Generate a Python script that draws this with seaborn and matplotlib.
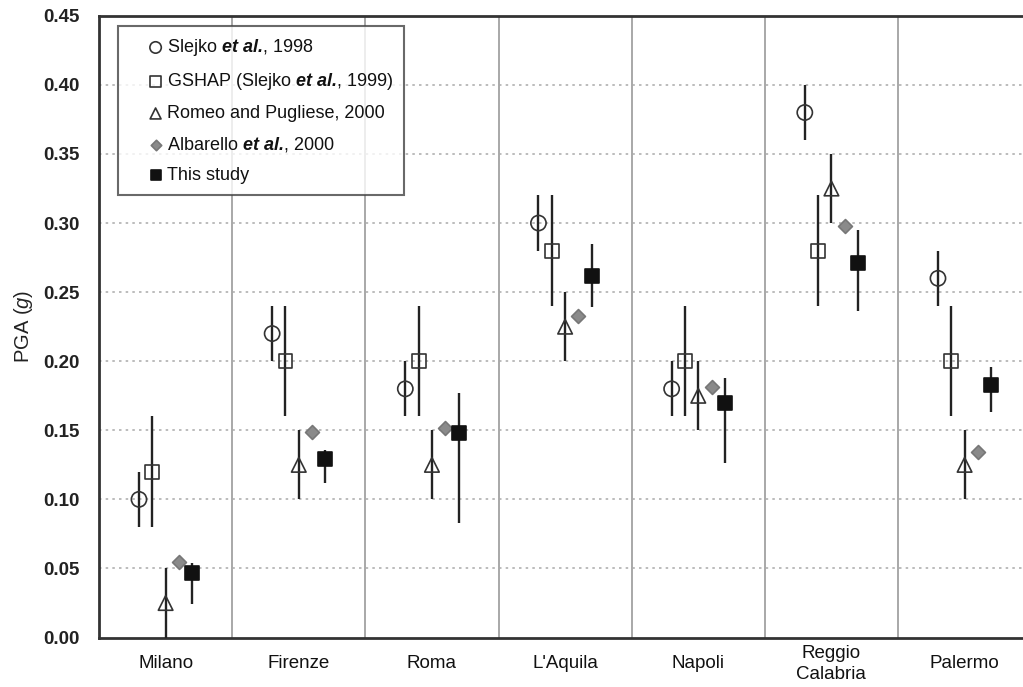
import matplotlib
matplotlib.use("Agg")
import matplotlib.pyplot as plt
import numpy as np
import pandas as pd
import seaborn as sns

# ---- data -------------------------------------------------------------
cities = ["Milano", "Firenze", "Roma", "L'Aquila", "Napoli", "Reggio\nCalabria", "Palermo"]

slejko_1998 = [0.10, 0.22, 0.18, 0.30, 0.18, 0.38, 0.26]
slejko_1998_err = 0.02

gshap_1999 = [0.12, 0.20, 0.20, 0.28, 0.20, 0.28, 0.20]
gshap_1999_err = 0.04

romeo_2000 = [0.025, 0.125, 0.125, 0.225, 0.175, 0.325, 0.125]
romeo_2000_err = 0.025

albarello_2000 = [0.055, 0.149, 0.152, 0.233, 0.181, 0.298, 0.134]

this_study = [0.047, 0.129, 0.148, 0.262, 0.170, 0.271, 0.183]
this_study_low = [0.024, 0.112, 0.083, 0.239, 0.1265, 0.236, 0.163]
this_study_high = [0.054, 0.136, 0.177, 0.2845, 0.188, 0.295, 0.196]

yticks = [0.00, 0.05, 0.10, 0.15, 0.20, 0.25, 0.30, 0.35, 0.40, 0.45]

# ---- style ------------------------------------------------------------
sns.set_theme(style="white")
plt.rcParams["font.family"] = ["Liberation Sans", "DejaVu Sans"]
plt.rcParams["mathtext.fontset"] = "custom"
plt.rcParams["mathtext.rm"] = "Liberation Sans"
plt.rcParams["mathtext.it"] = "Liberation Sans:italic"
plt.rcParams["mathtext.bf"] = "Liberation Sans:bold"
plt.rcParams["mathtext.bfit"] = "Liberation Sans:italic:bold"

fig = plt.figure(figsize=(10.23, 6.87), dpi=100)
# right edge of the last category sits just past the figure border
ax = fig.add_axes([0.0968, 0.072, 0.9112, 0.905])

idx = np.arange(len(cities))
err_color = "#222222"
err_lw = 1.7

series = [
    dict(name="Slejko $\\mathbfit{et\\ al.}\\!$, 1998", y=slejko_1998,
         lo=np.array(slejko_1998) - slejko_1998_err,
         hi=np.array(slejko_1998) + slejko_1998_err,
         dx=-0.2, marker="o", s=120, fc="none", ec="#333333"),
    dict(name="GSHAP (Slejko $\\mathbfit{et\\ al.}\\!$, 1999)", y=gshap_1999,
         lo=np.array(gshap_1999) - gshap_1999_err,
         hi=np.array(gshap_1999) + gshap_1999_err,
         dx=-0.1, marker="s", s=100, fc="none", ec="#333333"),
    dict(name="Romeo and Pugliese, 2000", y=romeo_2000,
         lo=np.array(romeo_2000) - romeo_2000_err,
         hi=np.array(romeo_2000) + romeo_2000_err,
         dx=0.0, marker="^", s=110, fc="none", ec="#333333"),
    dict(name="Albarello $\\mathbfit{et\\ al.}\\!$, 2000", y=albarello_2000,
         lo=None, hi=None,
         dx=0.1, marker="D", s=50, fc="#8a8a8a", ec="#777777"),
    dict(name="This study", y=this_study,
         lo=np.array(this_study_low), hi=np.array(this_study_high),
         dx=0.2, marker="s", s=100, fc="#111111", ec="#111111"),
]

for sr in series:
    x = idx + sr["dx"]
    if sr["lo"] is not None:
        ax.vlines(x, sr["lo"], sr["hi"], color=err_color, lw=err_lw, zorder=3)
    df = pd.DataFrame({"x": x, "y": sr["y"]})
    sns.scatterplot(data=df, x="x", y="y", ax=ax, marker=sr["marker"], s=sr["s"],
                    facecolor=sr["fc"], edgecolor=sr["ec"], linewidth=1.2,
                    label=sr["name"], zorder=4)

# ---- axes -------------------------------------------------------------
ax.set_xlim(-0.5, len(cities) - 0.5)
ax.set_ylim(0, 0.45)
ax.set_yticks(yticks)
ax.set_yticklabels([f"{v:.2f}" for v in yticks], fontsize=13.5, fontweight="bold", color="#222222")
ax.set_xticks(idx)
ax.set_xticklabels(cities, fontsize=13.5, color="#111111", linespacing=1.3, va="center")
ax.set_xticks(idx[:-1] + 0.5, minor=True)
ax.tick_params(axis="x", which="major", length=0, pad=19)
ax.tick_params(axis="x", which="minor", length=5, width=1.2, color="#333333", direction="out")
ax.tick_params(axis="y", which="major", length=6, width=1.2, color="#333333", direction="out", pad=8)
ax.set_xlabel("")
ax.set_ylabel("PGA ($\\it{g}$)", fontsize=14.5, color="#222222")
ax.yaxis.set_label_coords(-0.0687, 0.5)

# dotted horizontal grid and solid category separators
for v in yticks[1:-1]:
    ax.axhline(v, color="#b0b0b0", lw=1.2, ls=(0, (1.5, 2.5)), zorder=1)
for b in idx[:-1] + 0.5:
    ax.axvline(b, color="#a8a8a8", lw=1.4, zorder=1)

for side in ["left", "bottom", "top"]:
    ax.spines[side].set_color("#333333")
    ax.spines[side].set_linewidth(2.0)
ax.spines["right"].set_visible(False)

leg = ax.legend(loc="upper left", bbox_to_anchor=(0.02, 0.983), frameon=True,
                fancybox=False, edgecolor="#444444", fontsize=13,
                handlelength=3.0, handletextpad=-0.89, labelspacing=0.72,
                borderpad=0.6, borderaxespad=0, markerscale=0.75)
leg.get_frame().set_linewidth(1.5)
for t in leg.get_texts():
    t.set_color("#111111")

fig.savefig("out.png", dpi=100)
